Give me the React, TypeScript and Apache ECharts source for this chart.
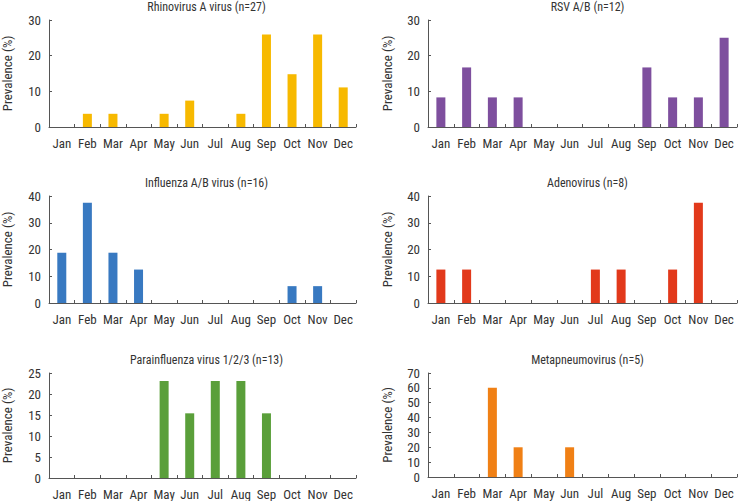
import React, { useEffect, useRef } from "react";
import * as echarts from "echarts";

const months = ["Jan", "Feb", "Mar", "Apr", "May", "Jun", "Jul", "Aug", "Sep", "Oct", "Nov", "Dec"];

const titles = [
  "Rhinovirus A virus (n=27)",
  "RSV A/B (n=12)",
  "Influenza A/B virus (n=16)",
  "Adenovirus (n=8)",
  "Parainfluenza virus 1/2/3 (n=13)",
  "Metapneumovirus (n=5)",
];

const rhinoVals = [0, 3.7, 3.7, 0, 3.7, 7.4, 0, 3.7, 25.9, 14.8, 25.9, 11.1];
const rsvVals = [8.3, 16.7, 8.3, 8.3, 0, 0, 0, 0, 16.7, 8.3, 8.3, 25.0];
const fluVals = [18.8, 37.5, 18.8, 12.5, 0, 0, 0, 0, 0, 6.3, 6.3, 0];
const adenoVals = [12.5, 12.5, 0, 0, 0, 0, 12.5, 12.5, 0, 12.5, 37.5, 0];
const paraVals = [0, 0, 0, 0, 23.1, 15.4, 23.1, 23.1, 15.4, 0, 0, 0];
const metaVals = [0, 0, 60, 20, 0, 20, 0, 0, 0, 0, 0, 0];

const seriesValues = [rhinoVals, rsvVals, fluVals, adenoVals, paraVals, metaVals];
const yMax = [30, 30, 40, 40, 25, 70];
const yInterval = [10, 10, 10, 10, 5, 10];
const colors = ["#F7B900", "#7E4F9E", "#3879C1", "#E2391B", "#5A9F3A", "#F08015"];

const FONT = "'Liberation Sans Narrow', 'Roboto Condensed', Roboto, sans-serif";
const TEXT = "#333";
const AXIS = "#555";

const grids = [
  { left: 47, top: 20, width: 309, height: 107 },
  { left: 428, top: 20, width: 309, height: 107 },
  { left: 47, top: 196, width: 309, height: 107 },
  { left: 428, top: 196, width: 309, height: 107 },
  { left: 47, top: 373, width: 309, height: 106 },
  { left: 428, top: 373, width: 309, height: 104 },
];

export default function App() {
  const ref = useRef<HTMLDivElement>(null);
  useEffect(() => {
    if (!ref.current) return;
    const chart = echarts.init(ref.current, null, { renderer: "svg" });
    const option: any = {
      animation: false,
      backgroundColor: "#fff",
      textStyle: { fontFamily: FONT },
      title: grids.map((g, i) => ({
        text: titles[i],
        left: g.left + g.width / 2,
        top: g.top - 24,
        textAlign: "center",
        textStyle: { fontFamily: FONT, fontSize: 12, fontWeight: "normal", color: TEXT },
      })),
      grid: grids.map((g) => ({ ...g, containLabel: false })),
      xAxis: grids.map((_, i) => ({
        type: "category",
        gridIndex: i,
        data: months,
        boundaryGap: true,
        axisLine: { lineStyle: { color: AXIS, width: 1 } },
        axisTick: { show: true, inside: true, length: 3, lineStyle: { color: AXIS } },
        axisLabel: { color: TEXT, fontSize: 13, fontFamily: FONT, margin: 10, interval: 0 },
        splitLine: { show: false },
      })),
      yAxis: grids.map((_, i) => ({
        type: "value",
        gridIndex: i,
        min: 0,
        max: yMax[i],
        interval: yInterval[i],
        name: "Prevalence (%)",
        nameLocation: "middle",
        nameGap: i % 2 === 0 ? 35 : 34,
        nameTextStyle: { color: TEXT, fontSize: 13, fontFamily: FONT },
        axisLine: { show: true, lineStyle: { color: AXIS, width: 1 } },
        axisTick: { show: true, inside: true, length: 3, lineStyle: { color: AXIS } },
        axisLabel: { color: TEXT, fontSize: 13, fontFamily: FONT, margin: 8 },
        splitLine: { show: false },
      })),
      series: seriesValues.map((vals, i) => ({
        type: "bar",
        xAxisIndex: i,
        yAxisIndex: i,
        data: vals,
        barWidth: 9,
        itemStyle: { color: colors[i] },
      })),
    };
    chart.setOption(option);
    return () => chart.dispose();
  }, []);
  return (
    <div
      ref={ref}
      style={{ position: "absolute", left: 0, top: 0, width: 738, height: 501, background: "#fff" }}
    />
  );
}
